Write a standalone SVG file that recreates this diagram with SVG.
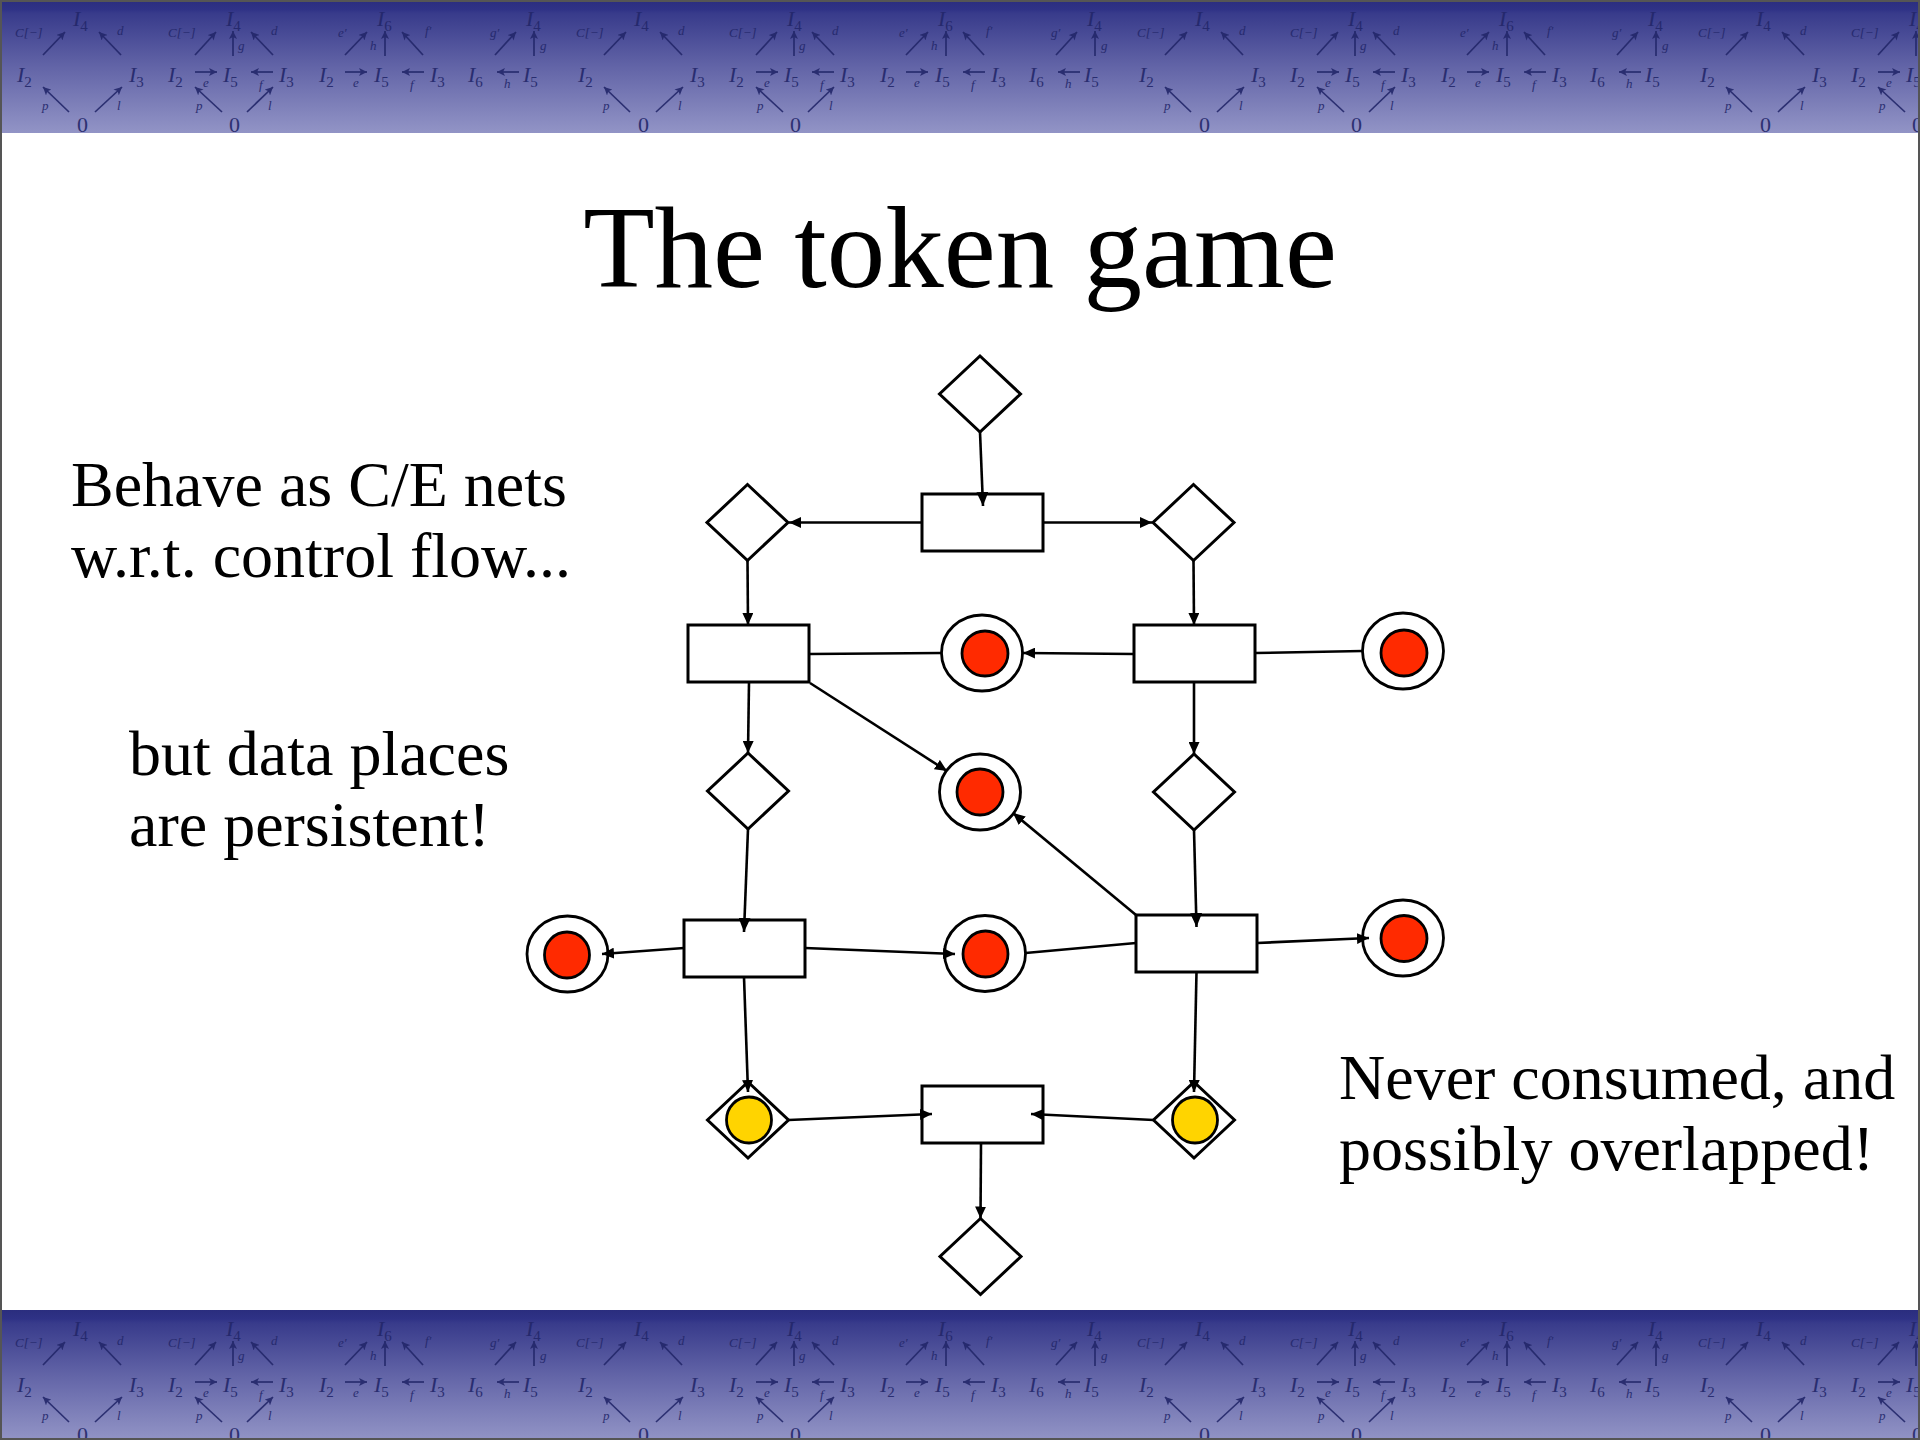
<svg xmlns="http://www.w3.org/2000/svg" width="1920" height="1440" viewBox="0 0 1920 1440">
  <defs>
    <style>
      .txt { font-family: "Liberation Serif", "Times New Roman", serif; fill: #000; }
      .title { font-size: 117px; }
      .body { font-size: 64px; }
      .trans { fill: #fff; stroke: #000; stroke-width: 3; }
      .ctrl { fill: #fff; stroke: #000; stroke-width: 3; stroke-linejoin: miter; }
      .ring { fill: #fff; stroke: #000; stroke-width: 2.8; }
      .tok { fill: #ff2a00; stroke: #000; stroke-width: 2.8; }
      .ytok { fill: #ffd400; stroke: #000; stroke-width: 2.8; }
      .arc { fill: none; stroke: #000; stroke-width: 2.6; }
      .m { font-family: "Liberation Serif", "Times New Roman", serif; font-style: italic; font-size: 22px; fill: #23276a; }
      .m .s { font-style: normal; font-size: 15px; }
      .lb { font-family: "Liberation Serif", "Times New Roman", serif; font-style: italic; font-size: 13px; fill: #23276a; }
      .n0 { font-family: "Liberation Serif", "Times New Roman", serif; font-size: 22px; fill: #23276a; }
      .ba { fill: none; stroke: #23276a; stroke-width: 1.7; }
    </style>
    <linearGradient id="band" x1="0" y1="0" x2="0" y2="1">
      <stop offset="0" stop-color="#2a2d7e"/>
      <stop offset="0.07" stop-color="#2f3286"/>
      <stop offset="0.1" stop-color="#383b8b"/>
      <stop offset="0.5" stop-color="#6264a7"/>
      <stop offset="1" stop-color="#9294c6"/>
    </linearGradient>
    <marker id="arr" viewBox="0 0 12 11" refX="12" refY="5.5" markerWidth="12" markerHeight="11" markerUnits="userSpaceOnUse" orient="auto">
      <path d="M0,0 L12,5.5 L0,11 z" fill="#000"/>
    </marker>
    <marker id="arrL" viewBox="0 0 14 12" refX="14" refY="6" markerWidth="14" markerHeight="12" markerUnits="userSpaceOnUse" orient="auto">
      <path d="M0,0 L14,6 L0,12 z" fill="#000"/>
    </marker>
    <marker id="bar" viewBox="0 0 8 8" refX="8" refY="4" markerWidth="8" markerHeight="8" markerUnits="userSpaceOnUse" orient="auto">
      <path d="M0,0 L8,4 L0,8 L2,4 z" fill="#23276a"/>
    </marker>
    <!-- one period of the decorative commutative-diagram strip -->
    <g id="tile" opacity="0.9">
      <!-- square 0 -> I2, I3 -> I4 -->
      <text class="m" x="73" y="26">I<tspan class="s" dy="5">4</tspan></text>
      <text class="lb" x="15" y="37">C[−]</text>
      <text class="lb" x="117" y="35">d</text>
      <text class="m" x="17" y="82">I<tspan class="s" dy="5">2</tspan></text>
      <text class="m" x="129" y="82">I<tspan class="s" dy="5">3</tspan></text>
      <text class="lb" x="42" y="110">p</text>
      <text class="lb" x="117" y="110">l</text>
      <text class="n0" x="77" y="132">0</text>
      <path class="ba" marker-end="url(#bar)" d="M43,55 L65,32"/>
      <path class="ba" marker-end="url(#bar)" d="M121,55 L99,32"/>
      <path class="ba" marker-end="url(#bar)" d="M69,112 L43,87"/>
      <path class="ba" marker-end="url(#bar)" d="M95,112 L122,87"/>
      <!-- pushout with I5 -->
      <text class="lb" x="168" y="37">C[−]</text>
      <text class="m" x="226" y="26">I<tspan class="s" dy="5">4</tspan></text>
      <text class="lb" x="271" y="35">d</text>
      <text class="lb" x="238" y="50">g</text>
      <path class="ba" marker-end="url(#bar)" d="M195,55 L216,32"/>
      <path class="ba" marker-end="url(#bar)" d="M233,56 L233,31"/>
      <path class="ba" marker-end="url(#bar)" d="M273,55 L251,32"/>
      <text class="m" x="168" y="82">I<tspan class="s" dy="5">2</tspan></text>
      <text class="m" x="223" y="82">I<tspan class="s" dy="5">5</tspan></text>
      <text class="m" x="279" y="82">I<tspan class="s" dy="5">3</tspan></text>
      <path class="ba" marker-end="url(#bar)" d="M195,72 L217,72"/>
      <text class="lb" x="203" y="87">e</text>
      <path class="ba" marker-end="url(#bar)" d="M273,72 L251,72"/>
      <text class="lb" x="259" y="89">f</text>
      <text class="lb" x="196" y="110">p</text>
      <text class="lb" x="268" y="110">l</text>
      <text class="n0" x="229" y="132">0</text>
      <path class="ba" marker-end="url(#bar)" d="M222,112 L195,87"/>
      <path class="ba" marker-end="url(#bar)" d="M247,112 L273,87"/>
      <!-- cocone into I6 -->
      <text class="lb" x="338" y="37">e′</text>
      <text class="m" x="377" y="26">I<tspan class="s" dy="5">6</tspan></text>
      <text class="lb" x="425" y="35">f′</text>
      <text class="lb" x="370" y="50">h</text>
      <path class="ba" marker-end="url(#bar)" d="M345,55 L367,32"/>
      <path class="ba" marker-end="url(#bar)" d="M385,56 L385,31"/>
      <path class="ba" marker-end="url(#bar)" d="M423,55 L402,32"/>
      <text class="m" x="319" y="82">I<tspan class="s" dy="5">2</tspan></text>
      <text class="m" x="374" y="82">I<tspan class="s" dy="5">5</tspan></text>
      <text class="m" x="430" y="82">I<tspan class="s" dy="5">3</tspan></text>
      <path class="ba" marker-end="url(#bar)" d="M345,72 L367,72"/>
      <text class="lb" x="353" y="87">e</text>
      <path class="ba" marker-end="url(#bar)" d="M424,72 L402,72"/>
      <text class="lb" x="410" y="89">f</text>
      <!-- triangle I6 <- I5 -> I4 -->
      <text class="lb" x="490" y="37">g′</text>
      <text class="m" x="526" y="26">I<tspan class="s" dy="5">4</tspan></text>
      <text class="lb" x="540" y="50">g</text>
      <path class="ba" marker-end="url(#bar)" d="M495,55 L516,32"/>
      <path class="ba" marker-end="url(#bar)" d="M534,56 L534,31"/>
      <text class="m" x="468" y="82">I<tspan class="s" dy="5">6</tspan></text>
      <text class="m" x="523" y="82">I<tspan class="s" dy="5">5</tspan></text>
      <path class="ba" marker-end="url(#bar)" d="M519,72 L497,72"/>
      <text class="lb" x="504" y="88">h</text>
    </g>
    <clipPath id="topClip"><rect x="0" y="0" width="1920" height="133"/></clipPath>
    <clipPath id="botClip"><rect x="0" y="1310" width="1920" height="130"/></clipPath>
  </defs>

  <!-- page -->
  <rect x="0" y="0" width="1920" height="1440" fill="#fff"/>

  <!-- header strip -->
  <g id="header">
    <rect x="0" y="0" width="1920" height="133" fill="url(#band)"/>
    <g clip-path="url(#topClip)">
      <use href="#tile" x="0" y="0"/>
      <use href="#tile" x="561" y="0"/>
      <use href="#tile" x="1122" y="0"/>
      <use href="#tile" x="1683" y="0"/>
    </g>
  </g>

  <!-- footer strip -->
  <g id="footer">
    <rect x="0" y="1310" width="1920" height="130" fill="url(#band)"/>
    <g clip-path="url(#botClip)">
      <use href="#tile" x="0" y="1310"/>
      <use href="#tile" x="561" y="1310"/>
      <use href="#tile" x="1122" y="1310"/>
      <use href="#tile" x="1683" y="1310"/>
    </g>
  </g>

  <!-- page frame -->
  <rect x="1" y="1" width="1918" height="1438" fill="none" stroke="#555" stroke-width="2"/>

  <!-- slide text -->
  <text id="title" class="txt title" x="960" y="287" text-anchor="middle">The token game</text>
  <g id="note-left" class="txt body">
    <text x="71" y="506">Behave as C/E nets</text>
    <text x="71" y="577">w.r.t. control flow...</text>
    <text x="129" y="775">but data places</text>
    <text x="129" y="846">are persistent!</text>
  </g>
  <g id="note-right" class="txt body">
    <text x="1339" y="1099">Never consumed, and</text>
    <text x="1339" y="1170">possibly overlapped!</text>
  </g>

  <!-- control places -->
  <g id="c1"><polygon class="ctrl" points="980,356 1020.5,394 980,432 939.5,394"/></g>
  <g id="c2"><polygon class="ctrl" points="747.5,484.5 788,522.5 747.5,560.5 707,522.5"/></g>
  <g id="c3"><polygon class="ctrl" points="1193.5,484.5 1234,522.5 1193.5,560.5 1153,522.5"/></g>
  <g id="c4"><polygon class="ctrl" points="748,753 788.5,791 748,829 707.5,791"/></g>
  <g id="c5"><polygon class="ctrl" points="1194,754 1234.5,792 1194,830 1153.5,792"/></g>
  <g id="c6">
    <polygon class="ctrl" points="748,1082 788.5,1120 748,1158 707.5,1120"/>
    <ellipse class="ytok" cx="749" cy="1120" rx="22.5" ry="23"/>
  </g>
  <g id="c7">
    <polygon class="ctrl" points="1194,1082 1234.5,1120 1194,1158 1153.5,1120"/>
    <ellipse class="ytok" cx="1195" cy="1120" rx="22.5" ry="23"/>
  </g>
  <g id="c8"><polygon class="ctrl" points="980.5,1218.5 1021,1256.5 980.5,1294.5 940,1256.5"/></g>

  <!-- transitions -->
  <g id="t1"><rect class="trans" x="922" y="494" width="121" height="57"/></g>
  <g id="t2"><rect class="trans" x="688" y="625" width="121" height="57"/></g>
  <g id="t3"><rect class="trans" x="1134" y="625" width="121" height="57"/></g>
  <g id="t4"><rect class="trans" x="684" y="920" width="121" height="57"/></g>
  <g id="t5"><rect class="trans" x="1136" y="915" width="121" height="57"/></g>
  <g id="t6"><rect class="trans" x="922" y="1086" width="121" height="57"/></g>

  <!-- data places, each holding a token -->
  <g id="d1">
    <ellipse class="ring" cx="982" cy="653" rx="40.5" ry="38"/>
    <ellipse class="tok" cx="985" cy="653.5" rx="23" ry="22.5"/>
  </g>
  <g id="d2">
    <ellipse class="ring" cx="1403" cy="651" rx="40.5" ry="38"/>
    <ellipse class="tok" cx="1404" cy="653" rx="23" ry="23"/>
  </g>
  <g id="d3">
    <ellipse class="ring" cx="980" cy="792" rx="40.5" ry="38"/>
    <ellipse class="tok" cx="980" cy="792" rx="23" ry="23"/>
  </g>
  <g id="d4">
    <ellipse class="ring" cx="567.5" cy="954" rx="40.5" ry="38"/>
    <ellipse class="tok" cx="567" cy="955" rx="22.5" ry="23"/>
  </g>
  <g id="d5">
    <ellipse class="ring" cx="985" cy="953.5" rx="40.5" ry="38"/>
    <ellipse class="tok" cx="985.5" cy="954" rx="22.5" ry="23"/>
  </g>
  <g id="d6">
    <ellipse class="ring" cx="1403" cy="938" rx="40.5" ry="38"/>
    <ellipse class="tok" cx="1404" cy="938.5" rx="23" ry="23"/>
  </g>

  <!-- arcs of the net, drawn last so heads ending inside a box stay visible -->
  <g id="arcs" class="arc">
    <path marker-end="url(#arrL)" d="M980,432 L983,506"/>
    <path marker-end="url(#arr)" d="M922,522.5 L789,522.5"/>
    <path marker-end="url(#arr)" d="M1043,522.5 L1152,522.5"/>
    <path marker-end="url(#arr)" d="M747.5,560.5 L748,625"/>
    <path marker-end="url(#arr)" d="M1193.5,560.5 L1194,625"/>
    <path d="M809,654 L941.5,653"/>
    <path marker-end="url(#arr)" d="M1134,654 L1023,653"/>
    <path d="M1255,653 L1362.5,651"/>
    <path marker-end="url(#arr)" d="M810,683 L947,771"/>
    <path marker-end="url(#arr)" d="M749,682 L748,753"/>
    <path marker-end="url(#arr)" d="M1194,682 L1194,754"/>
    <path marker-end="url(#arrL)" d="M748,829 L744,932"/>
    <path marker-end="url(#arrL)" d="M1194,830 L1196.5,927"/>
    <path marker-end="url(#arr)" d="M1136,915 L1013,813"/>
    <path marker-end="url(#arr)" d="M684,948 L602,954"/>
    <path marker-end="url(#arr)" d="M805,948 L955,954"/>
    <path d="M1025.5,953 L1136,943"/>
    <path marker-end="url(#arr)" d="M1257,943 L1369,938"/>
    <path marker-end="url(#arr)" d="M744,977 L748,1092"/>
    <path marker-end="url(#arr)" d="M1196.5,972 L1194,1092"/>
    <path marker-end="url(#arr)" d="M788.5,1120 L932,1114"/>
    <path marker-end="url(#arr)" d="M1153.5,1120 L1031,1114"/>
    <path marker-end="url(#arr)" d="M981,1143 L980.5,1218.5"/>
  </g>
</svg>
